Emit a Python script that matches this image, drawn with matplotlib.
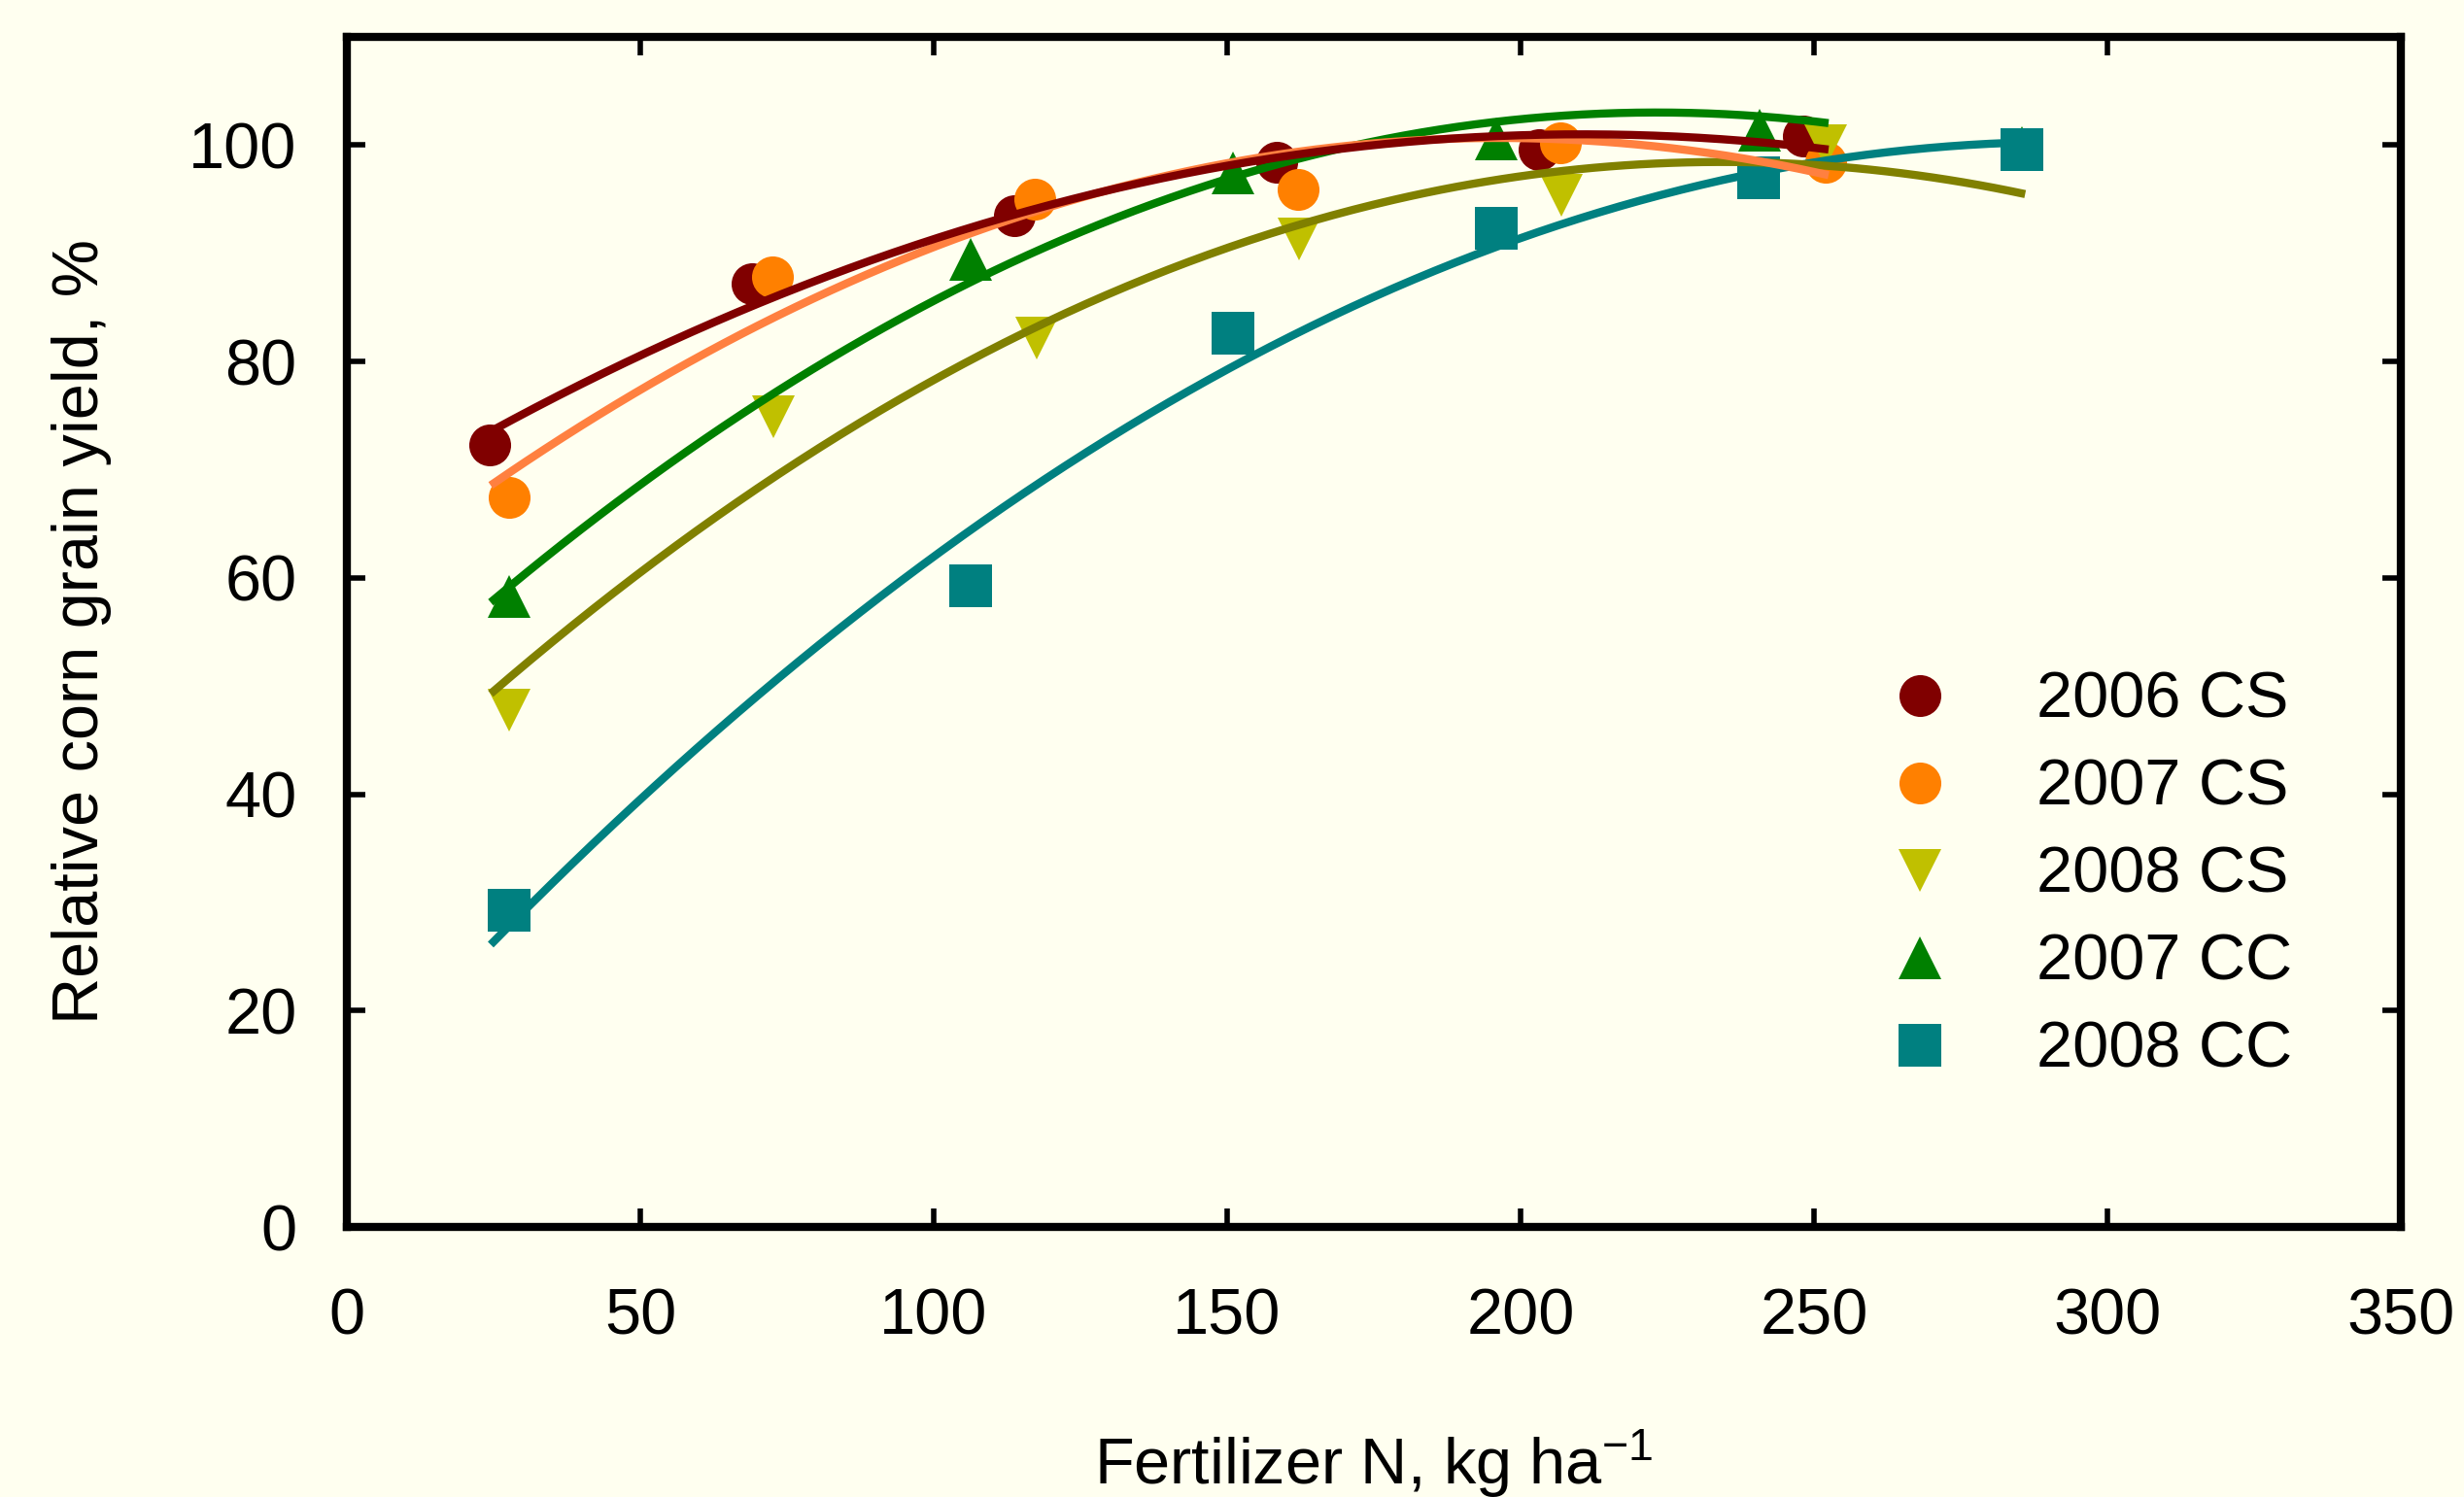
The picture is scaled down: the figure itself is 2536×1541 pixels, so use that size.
import numpy as np
import matplotlib
matplotlib.use("Agg")
import matplotlib.pyplot as plt

plt.rcParams['font.family'] = ['Liberation Sans', 'DejaVu Sans']
plt.rcParams['mathtext.fontset'] = 'custom'
plt.rcParams['mathtext.rm'] = 'Liberation Sans'
plt.rcParams['mathtext.it'] = 'Liberation Sans'

# ---- data ----
series_labels = ["2006 CS", "2007 CS", "2008 CS", "2007 CC", "2008 CC"]

n_2006_cs = [24.4, 69.0, 113.7, 158.4, 203.2, 248.2]
y_2006_cs = [72.3, 87.2, 93.5, 98.4, 99.6, 100.8]

n_2007_cs = [27.6, 72.5, 117.2, 162.1, 206.8, 252.0]
y_2007_cs = [67.4, 87.8, 95.0, 95.9, 100.2, 98.4]

n_2008_cs = [27.7, 72.6, 117.5, 162.3, 207.0, 252.0]
y_2008_cs = [47.8, 74.9, 82.2, 91.3, 95.4, 99.9]

n_2007_cc = [27.7, 106.3, 151.0, 195.9, 240.7, 285.5]
y_2007_cc = [58.3, 89.4, 97.4, 100.6, 101.4, 99.8]

n_2008_cc = [27.7, 106.3, 151.0, 195.9, 240.6, 285.5]
y_2008_cc = [29.3, 59.3, 82.6, 92.3, 97.0, 99.6]

# quadratic regression curves are drawn over these N ranges
fit_start = [24.5, 24.5, 24.5, 24.5, 24.5]
fit_end = [252.5, 252.5, 286.0, 252.5, 286.0]

xs_all = [n_2006_cs, n_2007_cs, n_2008_cs, n_2007_cc, n_2008_cc]
ys_all = [y_2006_cs, y_2007_cs, y_2008_cs, y_2007_cc, y_2008_cc]

marker_colors = ["#800000", "#FF8000", "#C0C000", "#008000", "#008080"]
line_colors = ["#800000", "#FF8040", "#808000", "#008000", "#008080"]
markers = ["o", "o", "v", "^", "s"]
line_z = [10, 9, 7, 8, 6]

x_ticks = [0, 50, 100, 150, 200, 250, 300, 350]
y_ticks = [0, 20, 40, 60, 80, 100]

bg = "#FFFFF0"

fig = plt.figure(figsize=(25.36, 15.41), dpi=100, facecolor=bg)
ax = fig.add_axes([0.1408, 0.1804, 0.8335, 0.795])
ax.set_facecolor(bg)

for xs, ys, lab, mc, mk in zip(xs_all, ys_all, series_labels, marker_colors, markers):
    ax.plot(xs, ys, linestyle="none", marker=mk, markersize=31, color=mc,
            markeredgewidth=0, label=lab, zorder=3)

for xs, ys, lc, x0, x1, z in zip(xs_all, ys_all, line_colors, fit_start, fit_end, line_z):
    coef = np.polyfit(xs, ys, 2)
    xf = np.linspace(x0, x1, 300)
    ax.plot(xf, np.polyval(coef, xf), color=lc, linewidth=6, zorder=z,
            solid_capstyle="butt")

ax.set_xlim(0, 350)
ax.set_ylim(0, 110)
ax.set_xticks(x_ticks)
ax.set_yticks(y_ticks)
ax.tick_params(axis="both", direction="in", length=14, width=4, labelsize=48,
               top=True, right=True, color="black")
ax.tick_params(axis="x", pad=45)
ax.tick_params(axis="y", pad=37)
for s in ax.spines.values():
    s.set_linewidth(6)
    s.set_color("black")

ax.set_xlabel("Fertilizer N, kg ha$^{-1}$", fontsize=48)
ax.xaxis.set_label_coords(0.5, -0.2163)
ax.xaxis.label.set_verticalalignment("baseline")
ax.set_ylabel("Relative corn grain yield, %", fontsize=48)
ax.yaxis.set_label_coords(-0.129, 0.5)
ax.yaxis.label.set_verticalalignment("center")

leg = ax.legend(loc="upper left", bbox_to_anchor=(0.750, 0.467), frameon=False,
                fontsize=48, handlelength=1.0, handletextpad=1.3,
                labelspacing=0.42, borderaxespad=0, borderpad=0)

fig.savefig("out.png", dpi=100, facecolor=bg)
